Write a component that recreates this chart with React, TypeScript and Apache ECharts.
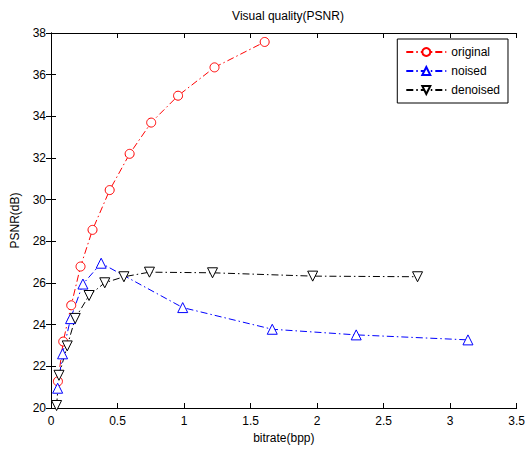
import React, { useEffect, useRef } from "react";
import * as echarts from "echarts";

const originalX = [0.052, 0.092, 0.152, 0.222, 0.312, 0.441, 0.591, 0.753, 0.955, 1.229, 1.606];
const originalY = [21.28, 23.19, 24.93, 26.79, 28.55, 30.46, 32.2, 33.7, 34.99, 36.35, 37.57];

const noisedX = [0.05, 0.087, 0.147, 0.24, 0.377, 0.99, 1.663, 2.294, 3.134];
const noisedY = [20.95, 22.6, 24.29, 25.95, 26.95, 24.82, 23.78, 23.51, 23.27];

const denoisedX = [0.042, 0.06, 0.122, 0.182, 0.286, 0.404, 0.548, 0.74, 1.214, 1.967, 2.755];
const denoisedY = [20.12, 21.57, 22.98, 24.3, 25.4, 26.01, 26.3, 26.52, 26.49, 26.33, 26.3];

const seriesNames = ["original", "noised", "denoised"];
const FONT = "Liberation Sans";

const zip = (xs: number[], ys: number[]) => xs.map((x, i) => [x, ys[i]]);

export default function App() {
  const ref = useRef<HTMLDivElement>(null);
  useEffect(() => {
    if (!ref.current) return;
    const chart = echarts.init(ref.current, null, { renderer: "svg" });
    const axisCommon = {
      axisLine: { show: true, lineStyle: { color: "#000", width: 1 } },
      axisTick: { show: true, inside: true, length: 5, lineStyle: { color: "#000" } },
      splitLine: { show: false },
    };
    chart.setOption({
      animation: false,
      backgroundColor: "#fff",
      title: {
        text: "Visual quality(PSNR)",
        left: 283,
        top: 5,
        textAlign: "center",
        textStyle: { fontFamily: FONT, fontSize: 12, fontWeight: "normal", color: "#000" },
      },
      grid: { left: 51, right: 10, top: 33, bottom: 41, containLabel: false },
      legend: {
        data: seriesNames,
        orient: "vertical",
        right: 20,
        top: 39,
        padding: [7, 8, 7, 8],
        itemGap: 7,
        itemWidth: 40,
        itemHeight: 10,
        borderColor: "#000",
        borderWidth: 1,
        backgroundColor: "#fff",
        textStyle: { fontFamily: FONT, fontSize: 12, color: "#000" },
      },
      xAxis: [
        {
          type: "value",
          min: 0,
          max: 3.5,
          interval: 0.5,
          position: "bottom",
          name: "bitrate(bpp)",
          nameLocation: "middle",
          nameGap: 23,
          nameTextStyle: { fontFamily: FONT, fontSize: 12, color: "#000" },
          axisLabel: { fontFamily: FONT, fontSize: 12, color: "#000", margin: 7 },
          ...axisCommon,
        },
        {
          type: "value",
          min: 0,
          max: 3.5,
          interval: 0.5,
          position: "top",
          axisLabel: { show: false },
          ...axisCommon,
        },
      ],
      yAxis: [
        {
          type: "value",
          min: 20,
          max: 38,
          interval: 2,
          position: "left",
          name: "PSNR(dB)",
          nameLocation: "middle",
          nameGap: 30,
          nameRotate: 90,
          nameTextStyle: { fontFamily: FONT, fontSize: 12, color: "#000" },
          axisLabel: { fontFamily: FONT, fontSize: 12, color: "#000", margin: 5 },
          ...axisCommon,
        },
        {
          type: "value",
          min: 20,
          max: 38,
          interval: 2,
          position: "right",
          axisLabel: { show: false },
          ...axisCommon,
        },
      ],
      series: [
        {
          name: "original",
          type: "line",
          data: zip(originalX, originalY),
          symbol: "circle",
          symbolSize: 9,
          showAllSymbol: true,
          color: "#ff0000",
          lineStyle: { color: "#ff0000", width: 1, type: [7, 3, 1.5, 3] },
          itemStyle: { color: "#fff", borderColor: "#ff0000", borderWidth: 1 },
        },
        {
          name: "noised",
          type: "line",
          data: zip(noisedX, noisedY),
          symbol: "triangle",
          symbolSize: 10,
          showAllSymbol: true,
          color: "#0000ff",
          lineStyle: { color: "#0000ff", width: 1, type: [7, 3, 1.5, 3] },
          itemStyle: { color: "#fff", borderColor: "#0000ff", borderWidth: 1 },
        },
        {
          name: "denoised",
          type: "line",
          data: zip(denoisedX, denoisedY),
          symbol: "triangle",
          symbolRotate: 180,
          symbolSize: 10,
          showAllSymbol: true,
          color: "#000",
          lineStyle: { color: "#000", width: 1, type: [7, 3, 1.5, 3] },
          itemStyle: { color: "#fff", borderColor: "#000", borderWidth: 1 },
        },
      ],
    });
    return () => chart.dispose();
  }, []);
  return (
    <div
      ref={ref}
      style={{ position: "fixed", left: 0, top: 0, width: 528, height: 449 }}
    />
  );
}
